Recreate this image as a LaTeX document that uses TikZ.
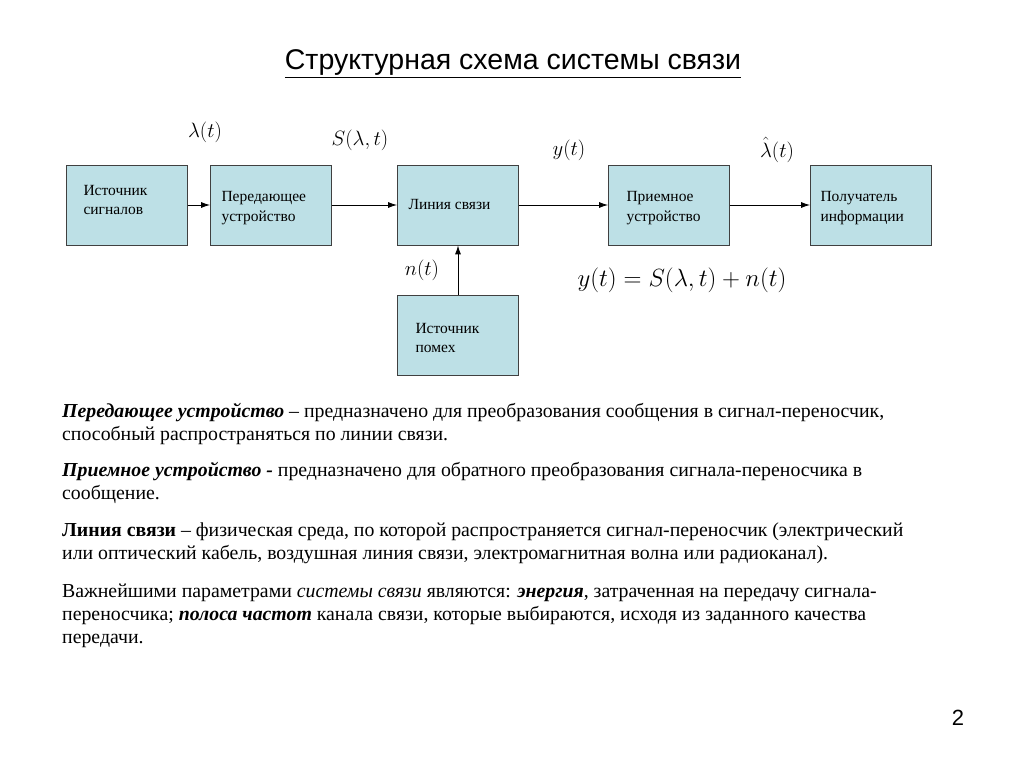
\documentclass[tikz,border=0pt]{standalone}
\usepackage{fontspec}
\setmainfont{Liberation Serif}
\newfontfamily\arialf{Liberation Sans}
\usetikzlibrary{arrows.meta}
\definecolor{boxfill}{RGB}{189,224,230}
\begin{document}
\begin{tikzpicture}[x=1pt,y=-1pt,
 blk/.style={draw=black!75,fill=boxfill,line width=0.8pt,minimum width=121pt,minimum height=80pt,inner sep=0pt},
 bt/.style={anchor=west,font=\fontsize{15.5}{19.5}\selectfont,align=left},
 arr/.style={-{Latex[length=9pt,width=6pt]},line width=0.9pt},
 lab/.style={font=\fontsize{22}{24}\selectfont},
 tx/.style={anchor=base west,font=\fontsize{19.8}{22}\selectfont,inner sep=0pt}]
\useasboundingbox (0,0) rectangle (1024,767);
\fill[white] (0,0) rectangle (1024,767);
\node[font=\arialf\fontsize{28.5}{32}\selectfont] (title) at (513,64) {\underline{Структурная схема системы связи}};
\node[blk] (b1) at (127,205) {};
\node[blk] (b2) at (271,205) {};
\node[blk] (b3) at (458,205) {};
\node[blk] (b4) at (669,205) {};
\node[blk] (b5) at (871,205) {};
\node[blk] (b6) at (458,335) {};
\node[bt] (t1) at (80,200) {Источник\\сигналов};
\node[bt] (t2) at (218,208) {Передающее\\устройство};
\node[bt] (t3) at (405,205) {Линия связи};
\node[bt] (t4) at (623,208) {Приемное\\устройство};
\node[bt] (t5) at (817,208) {Получатель\\информации};
\node[bt] (t6) at (412,338) {Источник\\помех};
\draw[arr] (b1) -- (b2);
\draw[arr] (b2) -- (b3);
\draw[arr] (b3) -- (b4);
\draw[arr] (b4) -- (b5);
\draw[arr] (b6) -- (b3);
\node[lab] (l1) at (205,132) {$\lambda(t)$};
\node[lab] (l2) at (360,140) {$S(\lambda,t)$};
\node[lab] (l3) at (569,150) {$y(t)$};
\node[lab] (l4) at (777,150) {$\hat{\lambda}(t)$};
\node[lab] (l5) at (422,270) {$n(t)$};
\node[lab,font=\fontsize{24}{26}\selectfont] (eq) at (682,280) {$y(t)=S(\lambda,t)+n(t)$};
\node[tx] (p1a) at (62,417) {\textbf{\textit{Передающее устройство}} – предназначено для преобразования сообщения в сигнал-переносчик,};
\node[tx] (p1b) at (62,440) {способный распространяться по линии связи.};
\node[tx] (p2a) at (62,476) {\textbf{\textit{Приемное устройство -}} предназначено для обратного преобразования сигнала-переносчика в};
\node[tx] (p2b) at (62,499) {сообщение.};
\node[tx] (p3a) at (62,536) {\textbf{Линия связи} – физическая среда, по которой распространяется сигнал-переносчик (электрический};
\node[tx] (p3b) at (62,559) {или оптический кабель, воздушная линия связи, электромагнитная волна или радиоканал).};
\node[tx] (p4a) at (62,597) {Важнейшими параметрами \textit{системы связи} являются: \textbf{\textit{энергия}}, затраченная на передачу сигнала-};
\node[tx] (p4b) at (62,620) {переносчика; \textbf{\textit{полоса частот}} канала связи, которые выбираются, исходя из заданного качества};
\node[tx] (p4c) at (62,643) {передачи.};
\node[font=\arialf\fontsize{22}{24}\selectfont] (pg) at (958,718) {2};
\end{tikzpicture}
\end{document}
